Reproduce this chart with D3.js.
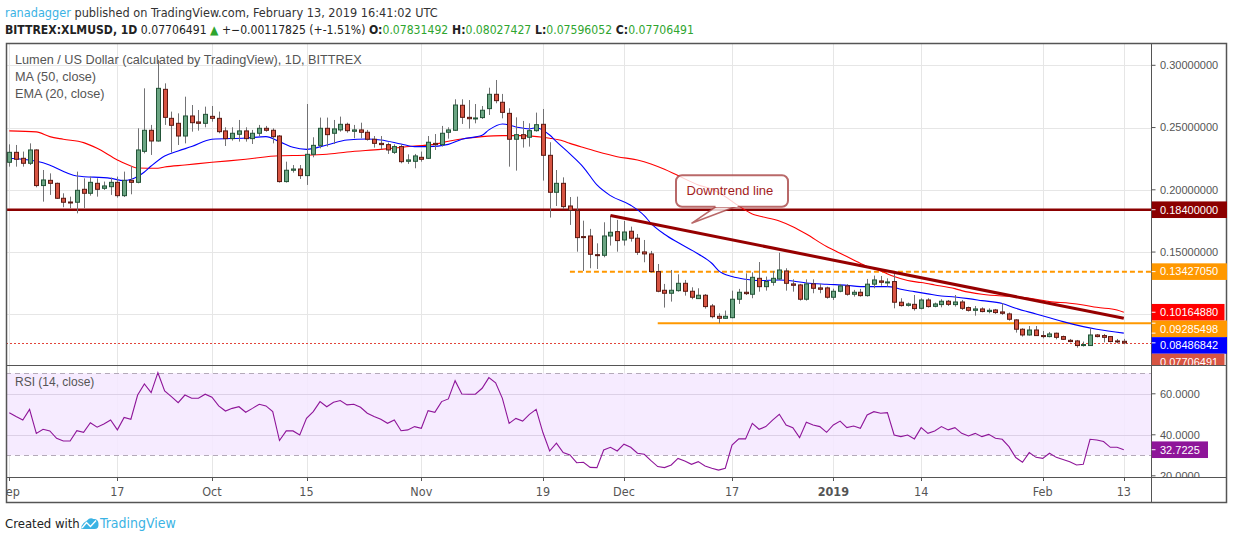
<!DOCTYPE html>
<html>
<head>
<meta charset="utf-8">
<script src="https://cdnjs.cloudflare.com/ajax/libs/d3/7.8.5/d3.min.js"></script>
<style>
  html, body { margin: 0; padding: 0; background: #fff; }
  svg text { font-family: "Liberation Sans", Arial, sans-serif; }
  svg .narrow { font-family: "Liberation Sans Narrow", "Arial Narrow", "DejaVu Sans Condensed", sans-serif; }
</style>
</head>
<body>
<div id="chart"></div>
<script>
/* --- data --- */
const firstDay = "2018-09-01";

const opens = [
  0.2221, 0.2301, 0.2253, 0.2213, 0.2320, 0.2034, 0.2076, 0.2052, 0.1932, 0.1902,
  0.1900, 0.2004, 0.1972, 0.2052, 0.2012, 0.2025, 0.2060, 0.1953, 0.2076, 0.2060,
  0.2309, 0.2478, 0.2392, 0.2807, 0.2574, 0.2534, 0.2432, 0.2593, 0.2545, 0.2534,
  0.2590, 0.2574, 0.2473, 0.2411, 0.2446, 0.2473, 0.2411, 0.2454, 0.2494, 0.2478,
  0.2432, 0.2066, 0.2157, 0.2167, 0.2114, 0.2285, 0.2357, 0.2494, 0.2454, 0.2481,
  0.2526, 0.2470, 0.2481, 0.2462, 0.2406, 0.2373, 0.2363, 0.2301, 0.2347, 0.2229,
  0.2229, 0.2261, 0.2253, 0.2373, 0.2363, 0.2462, 0.2478, 0.2679, 0.2582, 0.2571,
  0.2580, 0.2652, 0.2767, 0.2703, 0.2614, 0.2406, 0.2443, 0.2422, 0.2475, 0.2526,
  0.2277, 0.1980, 0.2052, 0.1870, 0.1835, 0.1624, 0.1629, 0.1479, 0.1474, 0.1629,
  0.1664, 0.1597, 0.1667, 0.1611, 0.1501, 0.1485, 0.1343, 0.1193, 0.1169, 0.1190,
  0.1249, 0.1185, 0.1126, 0.1153, 0.1067, 0.0984, 0.0968, 0.0973, 0.1121, 0.1177,
  0.1161, 0.1289, 0.1222, 0.1257, 0.1284, 0.1348, 0.1244, 0.1236, 0.1121, 0.1244,
  0.1212, 0.1212, 0.1137, 0.1185, 0.1228, 0.1161, 0.1177, 0.1150, 0.1242, 0.1268,
  0.1257, 0.1263, 0.1097, 0.1072, 0.1080, 0.1048, 0.1115, 0.1064, 0.1078, 0.1105,
  0.1078, 0.1099, 0.1054, 0.1032, 0.1043, 0.1022, 0.1035, 0.1019, 0.1003, 0.0955,
  0.0880, 0.0834, 0.0874, 0.0829, 0.0821, 0.0848, 0.0821, 0.0791, 0.0786, 0.0754,
  0.0749, 0.0834, 0.0829, 0.0821, 0.0786, 0.07831492
];
const highs = [
  0.2365, 0.2360, 0.2307, 0.2373, 0.2325, 0.2159, 0.2132, 0.2058, 0.1972, 0.1945,
  0.2146, 0.2092, 0.2106, 0.2092, 0.2066, 0.2098, 0.2106, 0.2146, 0.2191, 0.2494,
  0.2815, 0.2521, 0.3043, 0.2855, 0.2628, 0.2614, 0.2748, 0.2681, 0.2641, 0.2668,
  0.2673, 0.2628, 0.2502, 0.2502, 0.2561, 0.2502, 0.2481, 0.2521, 0.2513, 0.2494,
  0.2440, 0.2226, 0.2199, 0.2199, 0.2689, 0.2422, 0.2580, 0.2580, 0.2561, 0.2588,
  0.2539, 0.2521, 0.2539, 0.2481, 0.2432, 0.2432, 0.2379, 0.2365, 0.2365, 0.2285,
  0.2288, 0.2307, 0.2432, 0.2448, 0.2513, 0.2502, 0.2727, 0.2727, 0.2721, 0.2689,
  0.2673, 0.2820, 0.2882, 0.2770, 0.2655, 0.2582, 0.2553, 0.2534, 0.2620, 0.2649,
  0.2382, 0.2159, 0.2100, 0.1942, 0.1945, 0.1752, 0.1686, 0.1570, 0.1739, 0.1793,
  0.1758, 0.1750, 0.1704, 0.1645, 0.1597, 0.1509, 0.1404, 0.1244, 0.1356, 0.1321,
  0.1276, 0.1217, 0.1209, 0.1163, 0.1083, 0.1008, 0.1030, 0.1190, 0.1204, 0.1329,
  0.1337, 0.1420, 0.1303, 0.1348, 0.1495, 0.1370, 0.1281, 0.1244, 0.1281, 0.1281,
  0.1244, 0.1222, 0.1206, 0.1244, 0.1242, 0.1196, 0.1204, 0.1284, 0.1311, 0.1308,
  0.1289, 0.1335, 0.1129, 0.1094, 0.1155, 0.1129, 0.1129, 0.1094, 0.1121, 0.1115,
  0.1155, 0.1115, 0.1062, 0.1067, 0.1056, 0.1048, 0.1043, 0.1089, 0.1014, 0.0960,
  0.0888, 0.0906, 0.0906, 0.0866, 0.0858, 0.0853, 0.0829, 0.0802, 0.0794, 0.0781,
  0.0888, 0.0842, 0.0842, 0.0826, 0.0802, 0.08027427
];
const lows = [
  0.2186, 0.2186, 0.2186, 0.2199, 0.2020, 0.1905, 0.1959, 0.1926, 0.1860, 0.1852,
  0.1811, 0.1852, 0.1953, 0.1945, 0.1999, 0.1959, 0.1937, 0.1942, 0.1964, 0.2052,
  0.2293, 0.2280, 0.2387, 0.2521, 0.2299, 0.2360, 0.2373, 0.2467, 0.2475, 0.2502,
  0.2547, 0.2454, 0.2352, 0.2395, 0.2387, 0.2387, 0.2368, 0.2432, 0.2467, 0.2373,
  0.2058, 0.2058, 0.2138, 0.2087, 0.2039, 0.2261, 0.2333, 0.2347, 0.2368, 0.2467,
  0.2459, 0.2414, 0.2414, 0.2395, 0.2339, 0.2325, 0.2288, 0.2288, 0.2213, 0.2208,
  0.2173, 0.2226, 0.2248, 0.2320, 0.2347, 0.2411, 0.2473, 0.2529, 0.2491, 0.2534,
  0.2569, 0.2601, 0.2695, 0.2574, 0.2186, 0.2154, 0.2339, 0.2347, 0.2467, 0.2074,
  0.1777, 0.1870, 0.1846, 0.1718, 0.1503, 0.1348, 0.1370, 0.1364, 0.1458, 0.1552,
  0.1503, 0.1552, 0.1584, 0.1477, 0.1418, 0.1335, 0.1177, 0.1054, 0.1102, 0.1182,
  0.1150, 0.1121, 0.1124, 0.1046, 0.0968, 0.0928, 0.0963, 0.0968, 0.1083, 0.1155,
  0.1129, 0.1182, 0.1190, 0.1230, 0.1276, 0.1190, 0.1182, 0.1110, 0.1110, 0.1169,
  0.1169, 0.1126, 0.1115, 0.1177, 0.1150, 0.1142, 0.1142, 0.1142, 0.1209, 0.1230,
  0.1222, 0.1048, 0.1062, 0.1062, 0.1030, 0.1040, 0.1054, 0.1056, 0.1056, 0.1067,
  0.1062, 0.1035, 0.1022, 0.0989, 0.1016, 0.1008, 0.1003, 0.0995, 0.0949, 0.0853,
  0.0821, 0.0829, 0.0826, 0.0807, 0.0815, 0.0799, 0.0794, 0.0775, 0.0732, 0.0741,
  0.0746, 0.0815, 0.0775, 0.0775, 0.0767, 0.07596052
];
const closes = [
  0.2301, 0.2245, 0.2213, 0.2320, 0.2034, 0.2079, 0.2052, 0.1932, 0.1900, 0.1897,
  0.1996, 0.1972, 0.2060, 0.2004, 0.2031, 0.2060, 0.1953, 0.2076, 0.2060, 0.2320,
  0.2478, 0.2392, 0.2815, 0.2582, 0.2518, 0.2432, 0.2593, 0.2539, 0.2534, 0.2606,
  0.2574, 0.2467, 0.2411, 0.2454, 0.2473, 0.2411, 0.2454, 0.2494, 0.2478, 0.2427,
  0.2066, 0.2157, 0.2167, 0.2114, 0.2285, 0.2357, 0.2494, 0.2443, 0.2489, 0.2526,
  0.2475, 0.2481, 0.2462, 0.2406, 0.2373, 0.2363, 0.2320, 0.2347, 0.2226, 0.2240,
  0.2272, 0.2245, 0.2382, 0.2363, 0.2454, 0.2481, 0.2681, 0.2582, 0.2571, 0.2577,
  0.2639, 0.2767, 0.2716, 0.2622, 0.2406, 0.2443, 0.2411, 0.2475, 0.2523, 0.2277,
  0.1980, 0.2052, 0.1865, 0.1835, 0.1616, 0.1616, 0.1482, 0.1471, 0.1629, 0.1659,
  0.1592, 0.1661, 0.1611, 0.1498, 0.1485, 0.1343, 0.1185, 0.1169, 0.1193, 0.1249,
  0.1185, 0.1137, 0.1153, 0.1062, 0.0981, 0.0968, 0.0984, 0.1121, 0.1177, 0.1166,
  0.1297, 0.1222, 0.1263, 0.1289, 0.1356, 0.1249, 0.1233, 0.1121, 0.1244, 0.1209,
  0.1201, 0.1137, 0.1185, 0.1228, 0.1161, 0.1177, 0.1150, 0.1242, 0.1276, 0.1257,
  0.1260, 0.1097, 0.1070, 0.1083, 0.1046, 0.1115, 0.1062, 0.1083, 0.1105, 0.1080,
  0.1099, 0.1048, 0.1032, 0.1043, 0.1022, 0.1032, 0.1014, 0.1008, 0.0960, 0.0880,
  0.0834, 0.0874, 0.0829, 0.0827, 0.0842, 0.0815, 0.0799, 0.0781, 0.0749, 0.0757,
  0.0834, 0.0821, 0.0815, 0.0781, 0.07824316, 0.07706491
];

/* MA(50) and EMA(20) at sample days (day index from firstDay) */
const maDays = [0, 4, 6, 8, 11, 13, 16, 18, 19, 22, 23, 26, 30, 35, 40, 44, 47, 50, 55, 58,
  60, 63, 65, 68, 70, 73, 76, 79, 80, 82, 83, 85, 87, 90, 93, 95, 97, 99, 102, 104,
  106, 108, 110, 111, 114, 116, 118, 121, 123, 125, 127, 129, 131, 133, 135, 137, 140, 141, 144, 147,
  149, 152, 154, 157, 159, 161, 164, 165];
const maValues = [0.2473, 0.2465, 0.2427, 0.2406, 0.2379, 0.2333, 0.2240, 0.2191, 0.2175, 0.2173,
  0.2183, 0.2199, 0.2221, 0.2245, 0.2274, 0.2277, 0.2285, 0.2304, 0.2325, 0.2341,
  0.2352, 0.2365, 0.2390, 0.2416, 0.2427, 0.2435, 0.2435, 0.2422, 0.2414, 0.2392,
  0.2373, 0.2339, 0.2307, 0.2266, 0.2240, 0.2208, 0.2165, 0.2114, 0.2039, 0.2004,
  0.1945, 0.1870, 0.1806, 0.1790, 0.1750, 0.1704, 0.1645, 0.1544, 0.1490, 0.1437,
  0.1383, 0.1348, 0.1303, 0.1271, 0.1255, 0.1236, 0.1206, 0.1190, 0.1161, 0.1147,
  0.1142, 0.1121, 0.1102, 0.1089, 0.1075, 0.1056, 0.1035, 0.1016488];

const emaDays = [0, 5, 10, 15, 17, 19, 20, 21, 23, 25, 27, 30, 35, 38, 40, 42, 44, 47, 50, 53,
  55, 58, 60, 62, 65, 67, 70, 71, 73, 75, 77, 78, 80, 81, 83, 85, 87, 89, 92, 94,
  95, 97, 99, 102, 104, 105, 107, 109, 111, 114, 116, 118, 121, 124, 126, 130, 131, 132, 134, 136,
  138, 140, 142, 144, 147, 149, 152, 154, 156, 159, 161, 165];
const emaValues = [0.2253, 0.2218, 0.2111, 0.2092, 0.2074, 0.2106, 0.2143, 0.2191, 0.2272, 0.2312,
  0.2347, 0.2406, 0.2416, 0.2427, 0.2387, 0.2341, 0.2325, 0.2360, 0.2400, 0.2408,
  0.2400, 0.2368, 0.2347, 0.2347, 0.2365, 0.2406, 0.2438, 0.2481, 0.2529, 0.2505,
  0.2489, 0.2499, 0.2440, 0.2387, 0.2288, 0.2181, 0.2039, 0.1953, 0.1876, 0.1793,
  0.1731, 0.1643, 0.1576, 0.1485, 0.1410, 0.1351, 0.1303, 0.1281, 0.1271, 0.1276,
  0.1268, 0.1252, 0.1241, 0.1233, 0.1222, 0.1222, 0.1217, 0.1201, 0.1182, 0.1164,
  0.1147, 0.1139, 0.1126, 0.1110, 0.1086, 0.1048, 0.1003, 0.0973, 0.0941, 0.0901,
  0.0880, 0.08486842];

const rsiValues = [
  50.8, 48.9, 47.2, 52.4, 40.7, 42.7, 41.9, 38.3, 37.0, 37.0,
  42.0, 41.2, 45.9, 43.7, 45.3, 47.2, 42.4, 48.5, 47.6, 59.4,
  64.8, 60.6, 70.3, 61.4, 58.6, 55.7, 59.4, 57.8, 57.8, 59.8,
  58.3, 54.1, 51.6, 52.9, 53.7, 51.0, 52.9, 54.9, 54.1, 51.3,
  37.2, 41.9, 41.9, 39.9, 48.0, 51.3, 56.2, 53.7, 55.9, 56.7,
  54.6, 54.9, 53.4, 50.5, 48.9, 47.6, 45.6, 47.2, 42.0, 42.4,
  44.0, 43.2, 51.8, 51.0, 56.2, 57.5, 66.4, 59.9, 59.8, 59.8,
  62.7, 67.9, 65.4, 57.8, 45.6, 48.0, 46.7, 50.0, 52.4, 41.1,
  32.1, 35.9, 31.3, 30.2, 26.4, 26.6, 24.1, 24.0, 32.6, 33.9,
  32.1, 35.4, 33.9, 31.0, 30.5, 27.4, 24.5, 24.0, 25.3, 28.5,
  27.2, 25.6, 26.9, 24.8, 23.7, 22.8, 23.7, 35.0, 38.0, 38.0,
  45.6, 42.7, 44.0, 47.2, 50.0, 44.8, 43.5, 38.6, 46.1, 44.8,
  44.0, 41.2, 44.8, 46.7, 43.5, 44.3, 43.2, 49.7, 51.3, 50.5,
  50.8, 39.9, 39.1, 39.9, 38.0, 43.5, 40.7, 41.9, 44.0, 42.4,
  43.5, 40.7, 39.4, 40.7, 39.1, 40.2, 38.3, 37.8, 34.2, 28.9,
  26.6, 31.3, 29.0, 28.5, 31.0, 29.0, 28.0, 26.9, 25.3, 25.6,
  37.8, 37.5, 36.7, 33.9, 33.9, 32.7225
];

/* drawn levels */
const resistanceLevel = 0.184;
const dashedLevel = 0.1342705;
const supportLevel = 0.09285498;
const dashedFrom = "2018-11-23";
const supportFrom = "2018-12-06";
const trendDays = ["2018-11-29", "2019-02-13"];
const trendPrices = [0.1793, 0.0968];
const calloutDay = "2018-12-11";
const calloutPrice = 0.1731;
const calloutText = "Downtrend line";

/* ticks */
const priceTicks = [0.10, 0.15, 0.20, 0.25, 0.30];
const rsiTicks = [20, 40, 60];
const rsiBand = [30, 70];
const timeTicks = ["2018-09-01", "2018-09-17", "2018-10-01", "2018-10-15", "2018-11-01", "2018-11-19",
  "2018-12-01", "2018-12-17", "2019-01-01", "2019-01-14", "2019-02-01", "2019-02-13"];
const timeTickLabels = ["Sep", "17", "Oct", "15", "Nov", "19", "Dec", "17", "2019", "14", "Feb", "13"];

/* header */
const headerAuthor = "ranadagger";
const headerPublished = " published on TradingView.com, February 13, 2019 16:41:02 UTC";
const symbolName = "BITTREX:XLMUSD, 1D";
const changeText = "+\u22120.00117825 (+-1.51%)";
const paneTitle = "Lumen / US Dollar (calculated by TradingView), 1D, BITTREX";
const maTitle = "MA (50, close)";
const emaTitle = "EMA (20, close)";
const rsiTitle = "RSI (14, close)";

/* --- layout --- */
const W = 1234, H = 541;
const frame = { left: 6, top: 43, axis: 1151.5, right: 1227, bottom: 503 };
const pricePane = { top: 43, bottom: 365 };
const rsiPane = { top: 365, bottom: 477 };

const col = {
  up: "#6ba583", upBorder: "#225437",
  down: "#d75442", downBorder: "#5b1a13",
  wick: "#737375",
  grid: "#e6e6e6",
  border: "#555555",
  text: "#555555",
  ma: "#ff0000",
  ema: "#0000ff",
  level: "#8b0000",
  orange: "#ff9800",
  rsi: "#8e1599",
  band: "#f5e8ff"
};

const parseDay = d3.utcParse("%Y-%m-%d");
const day0 = parseDay(firstDay);
const dayOf = (i) => d3.utcDay.offset(day0, i);
const fmt8 = d3.format(".8f");
const fmt4 = d3.format(".4f");

/* --- scales --- */
const x = d3.scaleUtc()
  .domain([day0, dayOf(closes.length - 1)])
  .range([9.3, 1123.8]);
const y = d3.scaleLinear().domain([0.10, 0.30]).range([314.3, 65.3]);
const yr = d3.scaleLinear().domain([30, 70]).range([455.3, 373.3]);

const svg = d3.select("#chart").append("svg")
  .attr("width", W).attr("height", H)
  .attr("viewBox", `0 0 ${W} ${H}`);

const defs = svg.append("defs");
const addClip = (id, x0, y0, x1, y1) =>
  defs.append("clipPath").attr("id", id).append("rect")
    .attr("x", x0).attr("y", y0).attr("width", x1 - x0).attr("height", y1 - y0);
addClip("clipPrice", frame.left, pricePane.top, frame.axis, pricePane.bottom);
addClip("clipRsi", frame.left, rsiPane.top, frame.axis, rsiPane.bottom);
addClip("clipTime", frame.left, rsiPane.bottom, frame.axis, frame.bottom);
addClip("clipAxisPrice", frame.axis, pricePane.top, frame.right, pricePane.bottom);
addClip("clipAxisRsi", frame.axis, rsiPane.top, frame.right, rsiPane.bottom);

/* --- header --- */
const head1 = svg.append("text").attr("class", "narrow")
  .attr("x", 5).attr("y", 17).attr("font-size", 12.6).attr("fill", "#333");
head1.append("tspan").attr("fill", "#3bb3e4").text(headerAuthor);
head1.append("tspan").text(headerPublished);

const head2 = svg.append("text").attr("class", "narrow")
  .attr("x", 5).attr("y", 34).attr("font-size", 12.1).attr("fill", "#222");
head2.append("tspan").attr("font-weight", "bold").text(symbolName);
head2.append("tspan").text(" " + fmt8(closes[closes.length - 1]) + " ");
head2.append("tspan").attr("fill", "#2fa52f").text("\u25B2");
head2.append("tspan").text(" " + changeText + " ");
const ohlc = [["O:", opens], ["H:", highs], ["L:", lows], ["C:", closes]];
ohlc.forEach(([k, arr], i) => {
  head2.append("tspan").attr("font-weight", "bold").text((i ? " " : "") + k);
  head2.append("tspan").attr("fill", "#2fa52f").text(fmt8(arr[arr.length - 1]));
});

/* --- grid --- */
const grid = svg.append("g");
grid.selectAll(".vg").data(timeTicks).enter().append("line")
  .attr("x1", (d) => Math.round(x(parseDay(d))) + 0.5)
  .attr("x2", (d) => Math.round(x(parseDay(d))) + 0.5)
  .attr("y1", pricePane.top).attr("y2", rsiPane.bottom)
  .attr("stroke", col.grid);

/* RSI band */
grid.append("rect")
  .attr("x", frame.left).attr("width", frame.axis - frame.left)
  .attr("y", yr(rsiBand[1])).attr("height", yr(rsiBand[0]) - yr(rsiBand[1]))
  .attr("fill", col.band).attr("fill-opacity", 0.85);

grid.selectAll(".hg").data(priceTicks).enter().append("line")
  .attr("x1", frame.left).attr("x2", frame.axis)
  .attr("y1", (d) => Math.round(y(d)) + 0.5).attr("y2", (d) => Math.round(y(d)) + 0.5)
  .attr("stroke", col.grid);
grid.selectAll(".rg").data(rsiTicks.filter((d) => d > 20)).enter().append("line")
  .attr("x1", frame.left).attr("x2", frame.axis)
  .attr("y1", (d) => Math.round(yr(d)) + 0.5).attr("y2", (d) => Math.round(yr(d)) + 0.5)
  .attr("stroke", "#dcd0e6");
grid.selectAll(".rb").data(rsiBand).enter().append("line")
  .attr("x1", frame.left).attr("x2", frame.axis)
  .attr("y1", (d) => Math.round(yr(d)) + 0.5).attr("y2", (d) => Math.round(yr(d)) + 0.5)
  .attr("stroke", "#b4aab9").attr("stroke-dasharray", "5,4");

/* --- price pane --- */
const price = svg.append("g").attr("clip-path", "url(#clipPrice)");

// resistance / support levels
price.append("line")
  .attr("x1", frame.left).attr("x2", frame.axis)
  .attr("y1", y(resistanceLevel)).attr("y2", y(resistanceLevel))
  .attr("stroke", col.level).attr("stroke-width", 2.5);
price.append("line")
  .attr("x1", x(parseDay(dashedFrom))).attr("x2", frame.axis)
  .attr("y1", y(dashedLevel)).attr("y2", y(dashedLevel))
  .attr("stroke", col.orange).attr("stroke-width", 2).attr("stroke-dasharray", "5,3");
price.append("line")
  .attr("x1", x(parseDay(supportFrom))).attr("x2", frame.axis)
  .attr("y1", y(supportLevel)).attr("y2", y(supportLevel))
  .attr("stroke", col.orange).attr("stroke-width", 2);

// current price line
price.append("line")
  .attr("x1", frame.left).attr("x2", frame.axis)
  .attr("y1", Math.round(y(closes[closes.length - 1])) + 0.5)
  .attr("y2", Math.round(y(closes[closes.length - 1])) + 0.5)
  .attr("stroke", "#e2443a").attr("stroke-dasharray", "2,2");

// moving averages
const avgLine = d3.line().x((d) => x(dayOf(d[0]))).y((d) => y(d[1])).curve(d3.curveMonotoneX);
price.append("path").datum(d3.zip(maDays, maValues))
  .attr("d", avgLine).attr("fill", "none").attr("stroke", col.ma).attr("stroke-width", 1.1);
price.append("path").datum(d3.zip(emaDays, emaValues))
  .attr("d", avgLine).attr("fill", "none").attr("stroke", col.ema).attr("stroke-width", 1.1);

// candles
const candles = price.selectAll(".candle").data(closes).enter().append("g");
candles.append("line")
  .attr("x1", (d, i) => Math.round(x(dayOf(i))) + 0.5)
  .attr("x2", (d, i) => Math.round(x(dayOf(i))) + 0.5)
  .attr("y1", (d, i) => y(highs[i])).attr("y2", (d, i) => y(lows[i]))
  .attr("stroke", col.wick);
candles.append("rect")
  .attr("x", (d, i) => Math.round(x(dayOf(i))) - 1.5)
  .attr("width", 4)
  .attr("y", (d, i) => y(Math.max(opens[i], d)))
  .attr("height", (d, i) => Math.max(1, Math.abs(y(opens[i]) - y(d))))
  .attr("fill", (d, i) => (d >= opens[i] ? col.up : col.down))
  .attr("stroke", (d, i) => (d >= opens[i] ? col.upBorder : col.downBorder))
  .attr("stroke-width", 1);

// downtrend line
price.append("line")
  .attr("x1", x(parseDay(trendDays[0]))).attr("y1", y(trendPrices[0]))
  .attr("x2", x(parseDay(trendDays[1]))).attr("y2", y(trendPrices[1]))
  .attr("stroke", "#960000").attr("stroke-width", 3);

// callout
const tipX = x(parseDay(calloutDay)), tipY = y(calloutPrice);
const callout = price.append("g").attr("transform", `translate(${tipX},${tipY})`);
callout.append("path")
  .attr("d", "M0,0 L25,-17 L45,-17 Z")
  .attr("fill", "#fff").attr("fill-opacity", 0.8)
  .attr("stroke", "#a84444").attr("stroke-opacity", 0.8).attr("stroke-width", 1.5);
callout.append("rect")
  .attr("x", -15.5).attr("y", -48).attr("width", 112).attr("height", 31.5).attr("rx", 6)
  .attr("fill", "#fff").attr("fill-opacity", 0.8)
  .attr("stroke", "#a84444").attr("stroke-opacity", 0.8).attr("stroke-width", 2);
callout.append("path")
  .attr("d", "M24,-17.2 L46,-17.2")
  .attr("stroke", "#fff").attr("stroke-width", 2);
callout.append("text")
  .attr("x", -5).attr("y", -28).attr("font-size", 13)
  .attr("font-family", "'Open Sans', sans-serif")
  .attr("fill", "#a31c1c").text(calloutText);

/* pane legend */
const legend = svg.append("g").attr("class", "narrow").attr("fill", col.text);
legend.append("text").attr("x", 15).attr("y", 64).attr("font-size", 12.7).text(paneTitle);
legend.append("text").attr("x", 15).attr("y", 81).attr("font-size", 12.7).text(maTitle);
legend.append("text").attr("x", 15).attr("y", 98).attr("font-size", 12.7).text(emaTitle);
legend.append("text").attr("x", 15).attr("y", 386).attr("font-size", 12).text(rsiTitle);

/* --- RSI pane --- */
const rsi = svg.append("g").attr("clip-path", "url(#clipRsi)");
rsi.append("path").datum(rsiValues)
  .attr("d", d3.line().x((d, i) => x(dayOf(i))).y((d) => yr(d)))
  .attr("fill", "none").attr("stroke", col.rsi).attr("stroke-width", 1.1);

/* --- frame --- */
const fr = svg.append("g").attr("stroke", col.border).attr("fill", "none");
fr.append("rect").attr("x", frame.left + 0.5).attr("y", frame.top + 0.5)
  .attr("width", frame.right - frame.left - 1).attr("height", frame.bottom - frame.top - 1)
  .attr("stroke-width", 1.5);
fr.append("line").attr("x1", frame.axis).attr("x2", frame.axis)
  .attr("y1", frame.top).attr("y2", frame.bottom);
fr.append("line").attr("x1", frame.left).attr("x2", frame.right)
  .attr("y1", pricePane.bottom + 0.5).attr("y2", pricePane.bottom + 0.5);
fr.append("line").attr("x1", frame.left).attr("x2", frame.right)
  .attr("y1", rsiPane.bottom + 0.5).attr("y2", rsiPane.bottom + 0.5);

/* --- time axis --- */
const timeAxis = svg.append("g").attr("clip-path", "url(#clipTime)");
timeAxis.selectAll("line").data(timeTicks).enter().append("line")
  .attr("x1", (d) => Math.round(x(parseDay(d))) + 0.5)
  .attr("x2", (d) => Math.round(x(parseDay(d))) + 0.5)
  .attr("y1", rsiPane.bottom).attr("y2", rsiPane.bottom + 4)
  .attr("stroke", col.border);
timeAxis.selectAll("text").data(timeTicks).enter().append("text")
  .attr("class", "narrow")
  .attr("x", (d) => x(parseDay(d))).attr("y", 496)
  .attr("text-anchor", "middle").attr("font-size", 12.5)
  .attr("font-weight", (d, i) => (timeTickLabels[i] === "2019" ? "bold" : null))
  .attr("fill", col.text)
  .text((d, i) => timeTickLabels[i]);

/* --- price axis labels --- */
const axisPrice = svg.append("g").attr("clip-path", "url(#clipAxisPrice)");
const marks = [
  { v: resistanceLevel, c: col.level },
  { v: dashedLevel, c: col.orange },
  { v: maValues[maValues.length - 1], c: col.ma },
  { v: supportLevel, c: col.orange },
  { v: emaValues[emaValues.length - 1], c: col.ema },
  { v: closes[closes.length - 1], c: col.down }
];
// stack the coloured labels so they do not overlap
const labelH = 16.6;
let lastBottom = -Infinity;
marks.sort((a, b) => b.v - a.v).forEach((m) => {
  m.cy = Math.max(y(m.v), lastBottom + labelH / 2);
  lastBottom = m.cy + labelH / 2;
});

axisPrice.selectAll(".tick").data(priceTicks.filter((t) =>
  marks.every((m) => Math.abs(m.cy - y(t)) > labelH))).enter().append("g")
  .each(function (t) {
    const g = d3.select(this);
    g.append("line").attr("x1", frame.axis).attr("x2", frame.axis + 4)
      .attr("y1", y(t)).attr("y2", y(t)).attr("stroke", col.border);
    g.append("text").attr("x", 1160).attr("y", y(t)).attr("dy", "0.35em")
      .attr("font-size", 11).attr("fill", col.text).text(fmt8(t));
  });

const markG = axisPrice.selectAll(".mark").data(marks).enter().append("g");
markG.append("rect")
  .attr("x", frame.axis).attr("width", (d) => (d.c === col.ma || d.c === col.down ? 73 : 75.5))
  .attr("y", (d) => d.cy - labelH / 2).attr("height", labelH)
  .attr("fill", (d) => d.c);
markG.append("line").attr("x1", frame.axis).attr("x2", frame.axis + 4)
  .attr("y1", (d) => y(d.v)).attr("y2", (d) => y(d.v)).attr("stroke", "#fff");
markG.append("text").attr("x", 1160).attr("y", (d) => d.cy).attr("dy", "0.35em")
  .attr("font-size", 11).attr("fill", "#fff").text((d) => fmt8(d.v));

/* --- RSI axis labels --- */
const axisRsi = svg.append("g").attr("clip-path", "url(#clipAxisRsi)");
rsiTicks.forEach((t) => {
  axisRsi.append("line").attr("x1", frame.axis).attr("x2", frame.axis + 4)
    .attr("y1", yr(t)).attr("y2", yr(t)).attr("stroke", col.border);
  axisRsi.append("text").attr("x", 1160).attr("y", yr(t)).attr("dy", "0.35em")
    .attr("font-size", 11).attr("fill", col.text).text(fmt4(t));
});
const rsiLast = rsiValues[rsiValues.length - 1];
axisRsi.append("rect").attr("x", frame.axis).attr("width", 56.5)
  .attr("y", yr(rsiLast) - 8.3).attr("height", 16.6).attr("fill", col.rsi);
axisRsi.append("line").attr("x1", frame.axis).attr("x2", frame.axis + 4)
  .attr("y1", yr(rsiLast)).attr("y2", yr(rsiLast)).attr("stroke", "#fff");
axisRsi.append("text").attr("x", 1160).attr("y", yr(rsiLast)).attr("dy", "0.35em")
  .attr("font-size", 11).attr("fill", "#fff").text(fmt4(rsiLast));

/* --- footer --- */
const foot = svg.append("g");
foot.append("text").attr("class", "narrow").attr("x", 5).attr("y", 528)
  .attr("font-size", 13).attr("fill", "#222").text("Created with");
foot.append("path")
  .attr("d", "M81.5,529 L81.5,526 Q84,522 87,520.5 Q90,517 93.5,519 Q98,518.5 98.5,523.5 Q99,529 94.5,529 Z")
  .attr("fill", "#3bb3e4");
foot.append("path")
  .attr("d", "M82,528 L86.5,522.5 L90.5,526.5 L96,520.5")
  .attr("fill", "none").attr("stroke", "#ffffff").attr("stroke-width", 1.4);
foot.append("text").attr("class", "narrow").attr("x", 100).attr("y", 528)
  .attr("font-size", 14).attr("fill", "#3bb3e4").text("TradingView");
</script>
</body>
</html>
